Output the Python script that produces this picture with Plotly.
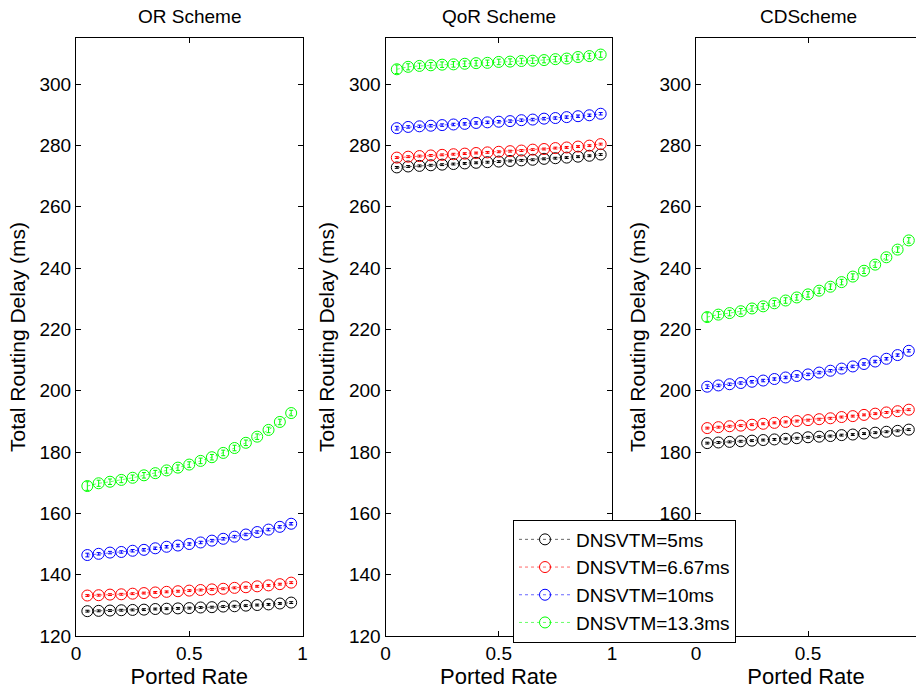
import plotly.graph_objects as go
from plotly.subplots import make_subplots

ported_rate = [0.05, 0.10, 0.15, 0.20, 0.25, 0.30, 0.35, 0.40, 0.45, 0.50,
               0.55, 0.60, 0.65, 0.70, 0.75, 0.80, 0.85, 0.90, 0.95]

series_names = ["DNSVTM=5ms", "DNSVTM=6.67ms", "DNSVTM=10ms", "DNSVTM=13.3ms"]
series_colors = ["#000000", "#ff0000", "#0000ff", "#00ff00"]
panel_titles = ["OR Scheme", "QoR Scheme", "CDScheme"]

# OR Scheme
or_5 = [128.1, 128.2, 128.3, 128.4, 128.5, 128.6, 128.8, 128.9, 129.0, 129.1,
        129.3, 129.4, 129.6, 129.7, 129.9, 130.1, 130.3, 130.6, 130.9]
or_667 = [133.2, 133.3, 133.5, 133.6, 133.8, 134.0, 134.2, 134.4, 134.6, 134.8,
          135.0, 135.2, 135.4, 135.7, 135.9, 136.2, 136.5, 136.9, 137.4]
or_10 = [146.4, 146.8, 147.2, 147.4, 147.8, 148.1, 148.6, 149.1, 149.5, 150.0,
         150.5, 151.1, 151.7, 152.4, 153.1, 153.9, 154.7, 155.6, 156.6]
or_133 = [168.9, 169.8, 170.3, 170.9, 171.6, 172.4, 173.1, 174.0, 174.9, 175.9,
          177.1, 178.3, 179.7, 181.3, 183.0, 185.0, 187.2, 189.8, 192.7]

# QoR Scheme
qor_5 = [272.8, 273.1, 273.3, 273.5, 273.7, 273.9, 274.1, 274.3, 274.5, 274.7,
         274.9, 275.1, 275.3, 275.6, 275.8, 276.0, 276.3, 276.6, 277.0]
qor_667 = [276.0, 276.3, 276.5, 276.7, 276.9, 277.1, 277.3, 277.5, 277.7, 277.9,
           278.1, 278.3, 278.6, 278.8, 279.1, 279.3, 279.6, 279.9, 280.4]
qor_10 = [285.6, 286.0, 286.2, 286.4, 286.6, 286.8, 287.0, 287.3, 287.5, 287.7,
          287.9, 288.2, 288.4, 288.7, 288.9, 289.2, 289.5, 289.8, 290.3]
qor_133 = [304.8, 305.6, 305.9, 306.1, 306.3, 306.4, 306.6, 306.8, 306.9, 307.2,
           307.3, 307.5, 307.6, 307.8, 308.1, 308.3, 308.8, 309.1, 309.6]

# CD Scheme
cd_5 = [182.9, 183.1, 183.3, 183.5, 183.7, 183.9, 184.1, 184.3, 184.5, 184.8,
        185.0, 185.2, 185.5, 185.7, 186.0, 186.3, 186.6, 186.9, 187.3]
cd_667 = [187.8, 188.1, 188.4, 188.6, 188.9, 189.2, 189.5, 189.8, 190.1, 190.4,
          190.7, 191.0, 191.4, 191.7, 192.1, 192.5, 192.9, 193.3, 193.8]
cd_10 = [201.3, 201.7, 202.1, 202.5, 202.9, 203.3, 203.8, 204.3, 204.8, 205.3,
         205.9, 206.5, 207.2, 207.9, 208.7, 209.5, 210.4, 211.6, 213.0]
cd_133 = [224.0, 224.8, 225.3, 225.9, 226.8, 227.5, 228.5, 229.4, 230.4, 231.4,
          232.6, 233.9, 235.4, 237.2, 239.1, 241.1, 243.5, 246.0, 249.0]

# error-bar half-widths
err_5 = [0.3, 0.3, 0.3, 0.3, 0.3, 0.3, 0.3, 0.3, 0.3, 0.3,
         0.3, 0.3, 0.3, 0.3, 0.3, 0.3, 0.3, 0.3, 0.3]
err_667 = [0.3, 0.3, 0.3, 0.3, 0.3, 0.3, 0.3, 0.3, 0.3, 0.3,
           0.3, 0.3, 0.3, 0.3, 0.3, 0.3, 0.3, 0.3, 0.3]
err_10 = [0.6, 0.4, 0.4, 0.4, 0.4, 0.4, 0.4, 0.4, 0.4, 0.4,
          0.4, 0.4, 0.4, 0.4, 0.4, 0.4, 0.4, 0.4, 0.4]
err_133 = [1.4, 1.0, 0.9, 0.9, 0.9, 0.9, 0.9, 0.9, 0.9, 0.9,
           0.9, 0.9, 0.9, 0.9, 0.9, 0.9, 0.9, 0.9, 0.9]

panels = [
    [or_5, or_667, or_10, or_133],
    [qor_5, qor_667, qor_10, qor_133],
    [cd_5, cd_667, cd_10, cd_133],
]
errors = [err_5, err_667, err_10, err_133]

FONT = "Liberation Sans, Arial, sans-serif"

fig = make_subplots(rows=1, cols=3)

for p, panel in enumerate(panels):
    for s, values in enumerate(panel):
        fig.add_trace(
            go.Scatter(
                x=ported_rate, y=values,
                mode="lines+markers",
                name=series_names[s],
                legendgroup=series_names[s],
                showlegend=(p == 0),
                line=dict(color=series_colors[s], width=0.6, dash="dot"),
                marker=dict(symbol="circle-open", size=11, color=series_colors[s],
                            line=dict(width=1, color=series_colors[s])),
                error_y=dict(type="data", array=errors[s], color=series_colors[s],
                             thickness=1, width=2),
            ),
            row=1, col=p + 1,
        )

W, H = 916, 689
ml, mr, mt, mb = 76, 0, 38, 53
pw = W - ml - mr
ph = H - mt - mb
dom1 = [0, (302.5 - ml) / pw]
dom2 = [(385.5 - ml) / pw, (612 - ml) / pw]
dom3 = [(696 - ml) / pw, 1.0]

axis_common = dict(
    showline=True, linecolor="black", linewidth=1,
    ticks="inside", ticklen=5, tickcolor="black",
    showgrid=False, zeroline=False, automargin=False,
    tickfont=dict(family=FONT, size=19, color="black"),
)

fig.update_xaxes(**axis_common, mirror="ticks",
                 tickvals=[0, 0.5, 1], ticktext=["0", "0.5", "1"],
                 title=dict(text="Ported Rate", font=dict(family=FONT, size=22, color="black"),
                            standoff=2))
fig.update_yaxes(**axis_common, range=[120, 315], dtick=20, tick0=120,
                 title=dict(text="Total Routing Delay (ms)",
                            font=dict(family=FONT, size=21, color="black"), standoff=8))

fig.update_layout(
    xaxis=dict(domain=dom1, range=[0, 1]),
    xaxis2=dict(domain=dom2, range=[0, 1]),
    xaxis3=dict(domain=dom3, range=[0, (916 - 696) / 224.0]),
    yaxis=dict(mirror="ticks"),
    yaxis2=dict(mirror="ticks"),
    yaxis3=dict(mirror=False),
)

for p, title in enumerate(panel_titles):
    dom = [dom1, dom2, dom3][p]
    cx = (dom[0] + dom[1]) / 2
    if p == 2:
        cx = ((696 + 920) / 2 - ml) / pw
    fig.add_annotation(text=title, x=cx, y=1, xref="paper", yref="paper",
                       xanchor="center", yanchor="bottom", yshift=9, showarrow=False,
                       font=dict(family=FONT, size=19, color="black"))

fig.update_layout(
    width=W, height=H,
    margin=dict(l=ml, r=mr, t=mt, b=mb),
    paper_bgcolor="white", plot_bgcolor="white",
    font=dict(family=FONT, color="black"),
    legend=dict(
        x=(513 - ml) / pw, y=(636.5 - 520) / ph,
        xanchor="left", yanchor="top",
        bgcolor="white", bordercolor="black", borderwidth=1,
        font=dict(family=FONT, size=19, color="black"),
        tracegroupgap=0, itemwidth=52,
    ),
)

fig.write_html("out.html",
               config={"displayModeBar": False},
               post_script="document.body.style.margin='0';document.body.style.overflow='hidden';")
